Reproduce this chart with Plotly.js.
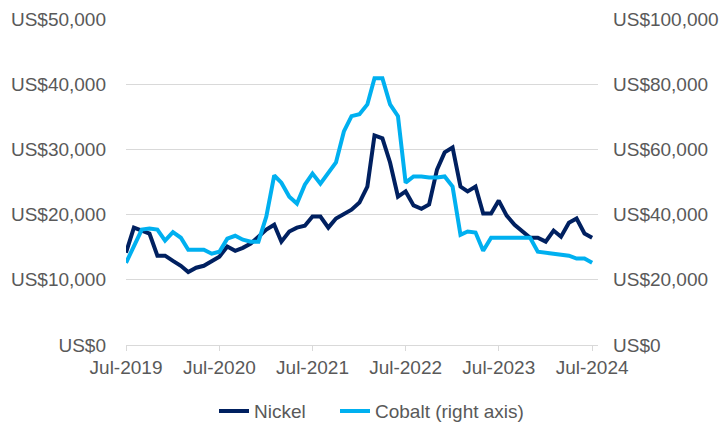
<!DOCTYPE html>
<html>
<head>
<meta charset="utf-8">
<script src="https://cdn.plot.ly/plotly-3.0.1.min.js"></script>
<style>html,body{margin:0;padding:0;background:#fff;}#chart{width:726px;height:423px;}</style>
</head>
<body>
<div id="chart"></div>
<script>
var months = [
  "2019-07","2019-08","2019-09","2019-10","2019-11","2019-12",
  "2020-01","2020-02","2020-03","2020-04","2020-05","2020-06",
  "2020-07","2020-08","2020-09","2020-10","2020-11","2020-12",
  "2021-01","2021-02","2021-03","2021-04","2021-05","2021-06",
  "2021-07","2021-08","2021-09","2021-10","2021-11","2021-12",
  "2022-01","2022-02","2022-03","2022-04","2022-05","2022-06",
  "2022-07","2022-08","2022-09","2022-10","2022-11","2022-12",
  "2023-01","2023-02","2023-03","2023-04","2023-05","2023-06",
  "2023-07","2023-08","2023-09","2023-10","2023-11","2023-12",
  "2024-01","2024-02","2024-03","2024-04","2024-05","2024-06",
  "2024-07"
];
var nickel = [
  14150,18000,17550,17100,13700,13700,
  12900,12150,11200,11850,12150,12900,
  13550,15100,14450,14900,15550,16600,
  17700,18450,15850,17400,18000,18300,
  19700,19700,18000,19400,20000,20750,
  21850,24300,32150,31700,28000,22750,
  23550,21400,20900,21550,26900,29550,
  30300,24300,23550,24300,20150,20150,
  22150,19850,18450,17550,16450,16450,
  15850,17550,16600,18750,19400,17100,
  16450
];
var cobalt = [
  25200,30500,35400,35700,35400,32000,
  34600,32900,29200,29200,29200,28000,
  28600,32600,33500,32300,31700,31700,
  39400,52000,49800,45500,43400,49200,
  52600,49500,52900,56000,65500,70200,
  70800,73800,81800,81800,73800,70200,
  49800,51700,51700,51400,51400,51700,
  48600,33800,34800,34500,28900,32900,
  32900,32900,32900,32900,32900,28600,
  28300,28000,27700,27400,26500,26500,
  25200
];
var seriesNames = ["Nickel", "Cobalt (right axis)"];

var FONT = "Liberation Sans, Arial, sans-serif";
var GREY = "#595959";

var dates = months.map(function(m){return m + "-01";});
var traces = [
  {x: dates, y: nickel, name: seriesNames[0], type: "scatter", mode: "lines",
   line: {color: "#002060", width: 4}, yaxis: "y", legend: "legend", hoverinfo: "skip"},
  {x: dates, y: cobalt, name: seriesNames[1], type: "scatter", mode: "lines",
   line: {color: "#00B0F0", width: 4}, yaxis: "y2", legend: "legend2", hoverinfo: "skip"}
];

var legendBase = {orientation: "h", xref: "container", xanchor: "left",
                  yref: "container", y: 0.028, yanchor: "middle",
                  font: {family: FONT, size: 19, color: GREY}, itemwidth: 30,
                  bgcolor: "rgba(0,0,0,0)"};

var layout = {
  width: 726, height: 423,
  margin: {l: 126, r: 128, t: 19, b: 78, pad: 0, autoexpand: false},
  paper_bgcolor: "#fff", plot_bgcolor: "#fff",
  font: {family: FONT, size: 19, color: GREY},
  showlegend: true,
  legend: Object.assign({}, legendBase, {x: 214 / 726}),
  legend2: Object.assign({}, legendBase, {x: 335 / 726}),
  xaxis: {type: "date", range: ["2019-07-01", "2024-07-24"], tick0: "2019-07-01", dtick: "M12",
          tickformat: "%b-%Y", ticks: "outside", ticklen: 5, tickcolor: "#d9d9d9", tickwidth: 1,
          showline: true, linecolor: "#d9d9d9", linewidth: 1, showgrid: false, zeroline: false,
          ticklabelstandoff: 0, tickfont: {family: FONT, size: 19, color: GREY}},
  yaxis: {range: [0, 50000], dtick: 10000, tick0: 0, tickprefix: "US$", tickformat: ",d",
          showgrid: true, gridcolor: "#d9d9d9", gridwidth: 1, zeroline: false, showline: false,
          ticks: "", ticklabelstandoff: 19, tickfont: {family: FONT, size: 19, color: GREY}},
  yaxis2: {range: [0, 100000], dtick: 20000, tick0: 0, tickprefix: "US$", tickformat: ",d",
           overlaying: "y", side: "right", showgrid: false, zeroline: false, showline: false,
           ticks: "", ticklabelstandoff: 14, tickfont: {family: FONT, size: 19, color: GREY}}
};

Plotly.newPlot("chart", traces, layout, {displayModeBar: false, staticPlot: true});
</script>
</body>
</html>
